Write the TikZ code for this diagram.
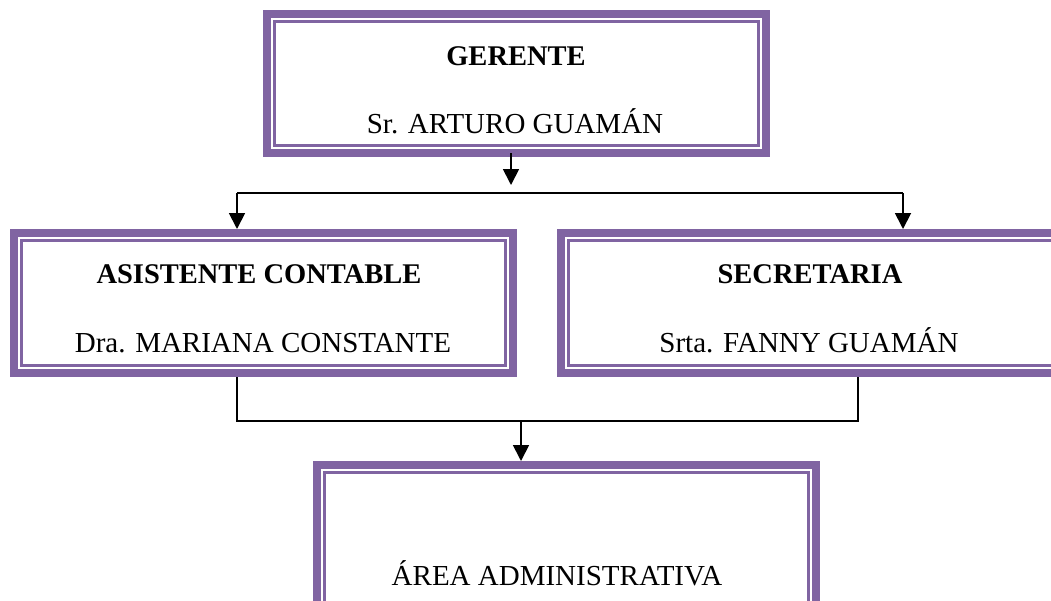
\documentclass[tikz,border=0pt]{standalone}
\usepackage{fontspec}
\setmainfont{Liberation Serif}
\usetikzlibrary{arrows.meta}
\definecolor{boxpurple}{HTML}{8064A2}
\begin{document}
\begin{tikzpicture}[x=1pt,y=-1pt,
  orgbox/.style={draw=boxpurple, line width=8pt, fill=white, minimum width=499pt, inner sep=0pt,
    path picture={\draw[boxpurple, line width=2.6pt]
      ([shift={(7.3pt,-7.3pt)}]path picture bounding box.north west) rectangle
      ([shift={(-7.3pt,7.3pt)}]path picture bounding box.south east);}},
  ttl/.style={anchor=base, font=\fontsize{28.5}{30}\selectfont\bfseries, inner sep=0pt},
  nm/.style={anchor=base, font=\fontsize{29}{31}\selectfont, inner sep=0pt},
  conn/.style={line width=1.8pt, black},
  arr/.style={conn, -{Triangle[width=16pt,length=16pt]}}
]
\useasboundingbox (0,0) rectangle (1051,600);
% boxes
\node[orgbox, minimum height=139pt] (g) at (516.5,83.5) {};
\node[orgbox, minimum height=140pt] (a) at (263.5,303) {};
\node[orgbox, minimum height=140pt] (s) at (810.5,303) {};
\node[orgbox, minimum height=150pt] (r) at (566.5,540) {};
% texts
\node[ttl] (gt) at (516,65) {GERENTE};
\node[nm]  (gn) at (515,133) {Sr. ARTURO GUAMÁN};
\node[ttl] (at) at (259,283) {ASISTENTE CONTABLE};
\node[nm]  (an) at (263,352) {Dra. MARIANA CONSTANTE};
\node[ttl] (st) at (810,283) {SECRETARIA};
\node[nm]  (sn) at (809,352) {Srta. FANNY GUAMÁN};
\node[nm]  (rn) at (557,585) {ÁREA ADMINISTRATIVA};
% junction coordinates
\coordinate (gd) at (511,185);
\coordinate (gx) at (511,153);
\coordinate (hl) at (237,193);
\coordinate (hr) at (903,193);
\coordinate (bl) at (237,421);
\coordinate (br) at (858,421);
\coordinate (bm) at (521,421);
% connectors
\draw[arr] (gx) -- (gd);
\draw[conn] (hl) -- (hr);
\draw[arr] (hl) -- (hl |- a.north);
\draw[arr] (hr) -- (hr |- s.north);
\draw[conn] (bl |- a.south) -- (bl) -- (br) -- (br |- s.south);
\draw[arr] (bm) -- (bm |- r.north);
\end{tikzpicture}
\end{document}
